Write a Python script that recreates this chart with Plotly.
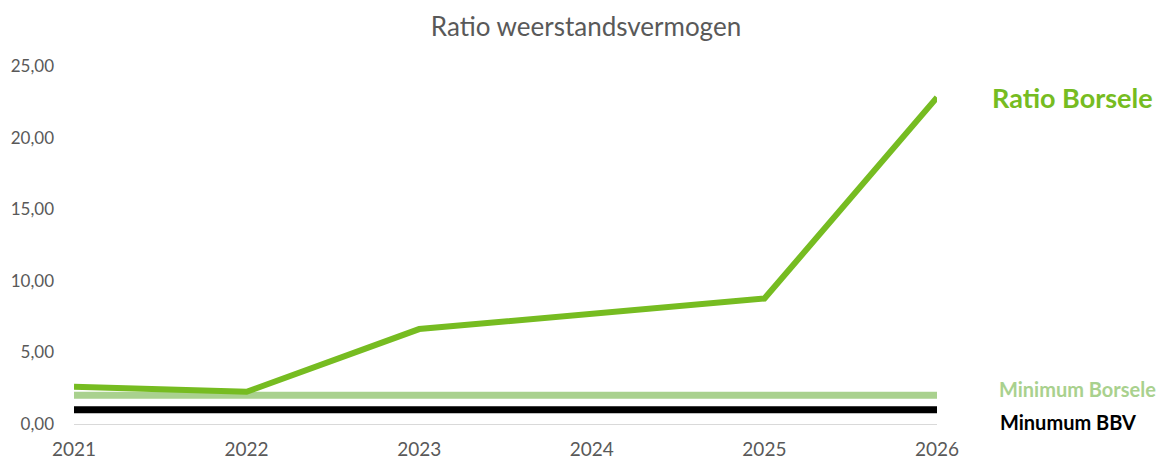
import plotly.graph_objects as go

years = ["2021", "2022", "2023", "2024", "2025", "2026"]
ratio_borsele = [2.60, 2.25, 6.63, 7.72, 8.76, 22.80]
minimum_borsele = [2.0, 2.0, 2.0, 2.0, 2.0, 2.0]
minimum_bbv = [1.0, 1.0, 1.0, 1.0, 1.0, 1.0]

_FONT = "Source Sans Pro, Lato, sans-serif"
_GREY = "#595959"
_GREEN = "#76bc21"
_LIGHT = "#a9d18e"

fig = go.Figure()
fig.add_trace(go.Scatter(x=years, y=minimum_bbv, mode="lines", name="Minumum BBV",
                         line=dict(color="#000000", width=7)))
fig.add_trace(go.Scatter(x=years, y=minimum_borsele, mode="lines", name="Minimum Borsele",
                         line=dict(color=_LIGHT, width=7)))
fig.add_trace(go.Scatter(x=years, y=ratio_borsele, mode="lines", name="Ratio Borsele",
                         line=dict(color=_GREEN, width=6)))

# end labels right of the plot
labels = [("Ratio Borsele", ratio_borsele[-1], _GREEN, 27, 53),
          ("Minimum Borsele", 2.45, _LIGHT, 20, 60),
          ("Minumum BBV", 0.15, "#000000", 20, 61)]
for text, yv, col, size, shift in labels:
    fig.add_annotation(text=f"<b>{text}</b>", xref="paper", x=1, xshift=shift, xanchor="left",
                       yref="y", y=yv, showarrow=False, font=dict(size=size, color=col, family=_FONT))

fig.update_xaxes(type="category", range=[0, 5], showgrid=False, zeroline=False, showline=False,
                 tickfont=dict(size=19, color=_GREY, family=_FONT), ticks="",
                 ticklabelstandoff=12, automargin=False)
fig.update_yaxes(range=[0, 25], dtick=5, tickformat=".2f", showgrid=False, zeroline=True,
                 zerolinecolor="#d9d9d9", zerolinewidth=1, showline=False,
                 tickfont=dict(size=17, color=_GREY, family=_FONT), ticks="",
                 ticklabelstandoff=19, automargin=False)
# page body has an 8px margin, so the figure is sized to the remaining area
fig.update_layout(
    title=dict(text="Ratio weerstandsvermogen", x=0.5, xanchor="center",
               y=1 - 19 / 454, yanchor="middle", yref="container",
               font=dict(size=26, color=_GREY, family=_FONT)),
    separators=",.",
    showlegend=False,
    plot_bgcolor="white", paper_bgcolor="white",
    width=1156, height=454,
    margin=dict(l=66, r=227, t=58, b=38, autoexpand=False),
)
fig.write_html("out.html")
